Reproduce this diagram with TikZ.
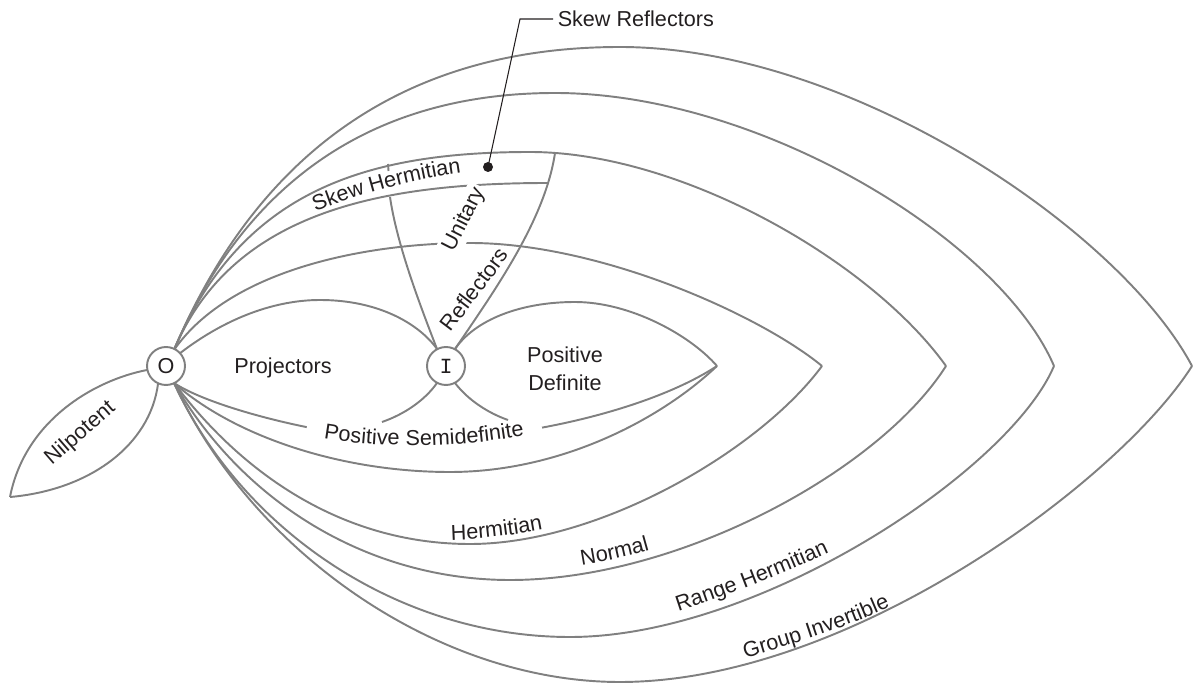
\documentclass[tikz,border=0pt]{standalone}
\usepackage{fontspec}
\setmainfont{Liberation Sans}
\newfontfamily\monoI{Liberation Mono}
\usetikzlibrary{decorations.text}
\definecolor{ln}{RGB}{128,128,128}
\definecolor{tx}{RGB}{35,31,32}
\newcommand{\labfont}{\fontsize{12.3}{15.9}\selectfont}
\begin{document}
\begin{tikzpicture}[x=0.02cm,y=-0.02cm,
  reg/.style={draw=ln,line width=1.1pt},
  lab/.style={text=tx,font=\labfont,inner sep=0pt},
  pt/.style={circle,draw=ln,line width=1.1pt,fill=white,minimum size=0.76cm,inner sep=0pt,text=tx,font=\labfont},
  curvlab/.style={decorate,decoration={text along path,text align=center,text={|\labfont\color{tx}|#1}}},
  leader/.style={draw=tx,line width=0.6pt}
]
\useasboundingbox (0,0) rectangle (1200,685);

% anchor points on the circles and tips
\coordinate (Otop) at (174,350);
\coordinate (Obot) at (174,383);
\coordinate (Ptop) at (179,354);
\coordinate (Nu) at (147,370);
\coordinate (Nl) at (158,384);
\coordinate (Itl) at (437,349);
\coordinate (Itr) at (455,349);
\coordinate (Ibl) at (437,383);
\coordinate (Ibr) at (455,383);
\coordinate (T0) at (717,366);
\coordinate (T1) at (822,366);
\coordinate (T2) at (946,366);
\coordinate (T3) at (1054,366);
\coordinate (T4) at (1192,366);
\coordinate (Tn) at (10,497);

% Group Invertible
\draw[reg] (Otop) .. controls (256,157) and (400,47) .. (620,47) .. controls (850,47) and (1120,230) .. (T4);
\draw[reg] (Obot) .. controls (254,555) and (440,682) .. (620,682) .. controls (850,682) and (1120,480) .. (T4);
% Range Hermitian
\draw[reg] (Otop) .. controls (248,175) and (380,93) .. (555,93) .. controls (760,93) and (1000,240) .. (T3);
\draw[reg] (Obot) .. controls (243,532) and (400,637) .. (570,637) .. controls (760,637) and (1010,470) .. (T3);
% Normal
\draw[reg] (Otop) .. controls (240,194) and (360,152) .. (530,152) .. controls (680,152) and (870,260) .. (T2);
\draw[reg] (Obot) .. controls (244,504) and (370,580) .. (510,580) .. controls (680,580) and (880,470) .. (T2);
% Skew Hermitian lower boundary
\coordinate (SHend) at (548,183);
\draw[reg] (Otop) .. controls (232,212) and (380,183) .. (SHend);
% Hermitian
\draw[reg] (Otop) .. controls (231,268) and (370,243) .. (470,243) .. controls (600,243) and (760,315) .. (T1);
\draw[reg] (Obot) .. controls (240,471) and (340,544) .. (470,544) .. controls (600,544) and (760,450) .. (T1);
% Positive semidefinite
\draw[reg] (Obot) .. controls (215,410) and (340,440) .. (415,440) .. controls (520,440) and (650,410) .. (T0);
\draw[reg] (Obot) .. controls (234,436) and (340,472) .. (450,472) .. controls (560,472) and (660,420) .. (T0);
% Projectors
\draw[reg] (Ptop) .. controls (220,322) and (270,300) .. (320,300) .. controls (380,300) and (420,325) .. (Itl);
\coordinate (Pbend) at (382,422);
\draw[reg] (Ibl) .. controls (425,400) and (405,414) .. (Pbend);
% Positive definite
\draw[reg] (Itr) .. controls (475,320) and (520,302) .. (575,302) .. controls (630,302) and (690,335) .. (T0);
\coordinate (PDend) at (508,420);
\draw[reg] (Ibr) .. controls (468,400) and (488,413) .. (PDend);
% Unitary boundaries
\coordinate (ULtop) at (388,164);
\coordinate (ULtick) at (388.5,171);
\coordinate (ULlow) at (390,197);
\coordinate (URtop) at (555,153);
\draw[reg] (ULtop) -- (ULtick);
\draw[reg] (Itl) .. controls (420,305) and (397,245) .. (ULlow);
\draw[reg] (Itr) .. controls (495,290) and (545,220) .. (URtop);
% Nilpotent
\draw[reg] (Nu) .. controls (95,380) and (25,420) .. (Tn);
\draw[reg] (Nl) .. controls (150,445) and (90,490) .. (Tn);

% mask for the Positive Semidefinite label
\draw[white,line width=0.28cm] (306,431) .. controls (370,445) and (460,446) .. (542,428);
\path[curvlab={Positive Semidefinite},decoration={raise=-0.08cm}] (306,431) .. controls (370,445) and (460,446) .. (542,428);

% curved labels
\path[curvlab={Skew Hermitian}] (309,214) .. controls (350,197) and (410,179) .. (468,172);
\path[curvlab={Hermitian}] (438,540) .. controls (470,541) and (520,535) .. (556,527);
\path[curvlab={Normal}] (570,567) .. controls (595,563) and (630,557) .. (661,547);
\path[curvlab={Range Hermitian}] (665,616) .. controls (720,599) and (787,573) .. (842,547);
\path[curvlab={Group Invertible}] (732,662) .. controls (790,645) and (850,627) .. (903,601);

% straight labels
\node[lab] (projlab) at (283,368) {Projectors};
\node[lab,align=center] (pdlab) at (565,369) {Positive\\Definite};
\node[lab,rotate=41,anchor=base] (nil) at (84,438) {Nilpotent};
\node[lab,rotate=63,anchor=base,fill=white,inner sep=1.5pt] (unit) at (469,222) {Unitary};
\node[lab,rotate=53,anchor=base] (refl) at (480,294) {Reflectors};

% points O and I
\node[pt] (O) at (166,366) {O};
\node[pt] (I) at (446,366) {\monoI I};

% Skew reflectors callout
\node[circle,fill=tx,inner sep=0pt,minimum size=0.2cm] (dot) at (488,167) {};
\node[lab,anchor=west,inner sep=2.5pt] (skr) at (553,19) {Skew Reflectors};
\coordinate (bend) at (520,19);
\draw[leader] (dot.center) -- (bend) -- (skr.west);
\end{tikzpicture}
\end{document}
